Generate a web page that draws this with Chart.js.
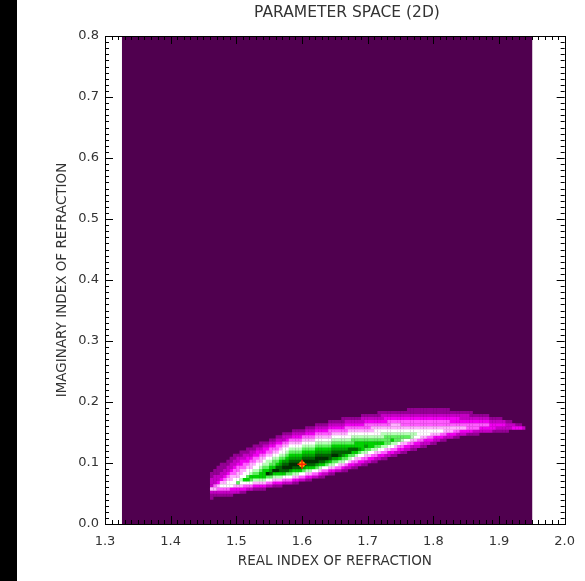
<!DOCTYPE html>
<html>
<head>
<meta charset="utf-8">
<script src="https://cdn.jsdelivr.net/npm/chart.js@4.4.1/dist/chart.umd.min.js"></script>
<style>
  html, body { margin: 0; padding: 0; background: #000; }
  #wrap { position: absolute; left: 17px; top: 0; width: 568px; height: 581px; background: #fff; }
</style>
</head>
<body>
<div id="wrap"><canvas id="chartParam"></canvas></div>
<script>
// grid region covered by the map (real / imaginary index)
const regionX = [1.3256, 1.951];
const regionYTop = 0.8;

const colX   = [1.46, 1.50, 1.54, 1.58, 1.62, 1.66, 1.70, 1.74, 1.78, 1.82, 1.86, 1.90, 1.94];
const ridgeY = [0.056, 0.067, 0.080, 0.093, 0.103, 0.115, 0.128, 0.138, 0.147, 0.154, 0.159, 0.161, 0.157];

// upper edge of each level (level 1 = outermost), null = level not reached in that column
const contourTop = [
  [0.085, 0.115, 0.134, 0.151, 0.162, 0.172, 0.180, 0.187, 0.188, 0.188, 0.183, 0.174, 0.160],
  [0.071, 0.107, 0.128, 0.146, 0.157, 0.167, 0.174, 0.181, 0.181, 0.181, 0.177, 0.170, null],
  [null,  0.099, 0.122, 0.141, 0.152, 0.162, 0.168, 0.175, 0.174, 0.174, 0.171, 0.165, null],
  [null,  0.091, 0.116, 0.137, 0.147, 0.157, 0.163, 0.169, 0.168, 0.168, 0.165, null,  null],
  [null,  0.083, 0.110, 0.132, 0.142, 0.151, 0.157, 0.163, 0.161, 0.161, null,  null,  null],
  [null,  0.075, 0.104, 0.127, 0.137, 0.146, 0.151, 0.156, 0.154, null,  null,  null,  null],
  [null,  null,  0.098, 0.122, 0.133, 0.141, 0.145, 0.150, null,  null,  null,  null,  null],
  [null,  null,  0.092, 0.117, 0.128, 0.136, 0.140, 0.144, null,  null,  null,  null,  null],
  [null,  null,  0.086, 0.112, 0.123, 0.131, 0.134, null,  null,  null,  null,  null,  null],
  [null,  null,  null,  0.108, 0.118, 0.125, null,  null,  null,  null,  null,  null,  null],
  [null,  null,  null,  0.103, 0.113, 0.120, null,  null,  null,  null,  null,  null,  null],
  [null,  null,  null,  0.098, 0.108, null,  null,  null,  null,  null,  null,  null,  null]
];
// lower edge of each level
const contourBottom = [
  [0.041, 0.049, 0.057, 0.064, 0.074, 0.085, 0.098, 0.111, 0.124, 0.138, 0.146, 0.151, 0.155],
  [0.049, 0.052, 0.060, 0.066, 0.076, 0.088, 0.101, 0.114, 0.128, 0.141, 0.149, 0.154, null],
  [null,  0.055, 0.062, 0.069, 0.079, 0.091, 0.105, 0.118, 0.132, 0.144, 0.153, 0.158, null],
  [null,  0.058, 0.065, 0.071, 0.081, 0.093, 0.108, 0.121, 0.136, 0.148, 0.156, null,  null],
  [null,  0.061, 0.067, 0.074, 0.084, 0.096, 0.111, 0.125, 0.139, 0.151, null,  null,  null],
  [null,  0.064, 0.070, 0.076, 0.086, 0.099, 0.115, 0.128, 0.143, null,  null,  null,  null],
  [null,  null,  0.072, 0.079, 0.089, 0.101, 0.118, 0.131, null,  null,  null,  null,  null],
  [null,  null,  0.075, 0.081, 0.091, 0.104, 0.121, 0.135, null,  null,  null,  null,  null],
  [null,  null,  0.077, 0.083, 0.093, 0.107, 0.125, null,  null,  null,  null,  null,  null],
  [null,  null,  null,  0.086, 0.096, 0.110, null,  null,  null,  null,  null,  null,  null],
  [null,  null,  null,  0.088, 0.098, 0.112, null,  null,  null,  null,  null,  null,  null],
  [null,  null,  null,  0.091, 0.101, null,  null,  null,  null,  null,  null,  null,  null]
];

const levelColors = ['#940094', '#c400c4', '#f000f0', '#ff5cff', '#ffb0ff', '#ffffff',
                     '#b8ffb8', '#5cf05c', '#00d200', '#00a000', '#006400', '#003000'];
const bgColor = '#50004f';

// best fit point
const bestX = [1.600];
const bestY = [0.098];

const xTickLabels = ['1.3', '1.4', '1.5', '1.6', '1.7', '1.8', '1.9', '2.0'];
const yTickLabels = ['0.0', '0.1', '0.2', '0.3', '0.4', '0.5', '0.6', '0.7', '0.8'];

const cellSize = 0.005;

function edgeAt(table, L, x) {
    for (let i = 0; i < colX.length - 1; i++) {
        if (x >= colX[i] && x <= colX[i + 1]) {
            const a = table[L][i] !== null ? table[L][i] : ridgeY[i];
            const b = table[L][i + 1] !== null ? table[L][i + 1] : ridgeY[i + 1];
            const t = (x - colX[i]) / (colX[i + 1] - colX[i]);
            return a + (b - a) * t;
        }
    }
    return null;
}

// rasterise the contours into grid cells, one list per level
const cellsByLevel = levelColors.map(() => []);
for (let i = 0; i < 100; i++) {
    const x = +(1.4625 + i * cellSize).toFixed(4);
    if (x > colX[colX.length - 1]) break;
    for (let j = 0; j < 45; j++) {
        const y = +(0.0025 + j * cellSize).toFixed(4);
        let level = -1;
        for (let L = 0; L < levelColors.length; L++) {
            const top = edgeAt(contourTop, L, x);
            const bot = edgeAt(contourBottom, L, x);
            if (top !== null && y < top && y > bot) level = L;
        }
        if (level >= 0) cellsByLevel[level].push({x: x, y: y});
    }
}

const datasets = [];
datasets.push({
    type: 'line',
    data: [{x: regionX[0], y: regionYTop}, {x: regionX[1], y: regionYTop}],
    borderWidth: 0,
    pointRadius: 0,
    fill: 'origin',
    backgroundColor: bgColor,
    order: 100
});
cellsByLevel.forEach(function (cells, L) {
    datasets.push({
        data: cells,
        pointStyle: 'rect',
        pointRadius: 2.45,
        borderWidth: 0,
        backgroundColor: levelColors[L],
        order: 50 - L
    });
});
datasets.push({
    data: [{x: bestX[0], y: bestY[0]}],
    pointStyle: 'circle',
    pointRadius: 3,
    borderWidth: 0,
    backgroundColor: '#ffa500',
    order: -1
});
datasets.push({
    data: [{x: bestX[0], y: bestY[0]}],
    pointStyle: 'cross',
    pointRadius: 4.5,
    borderWidth: 1.5,
    borderColor: '#ff2000',
    order: -2
});

// inward IDL style ticks on all four sides
const tickMarks = {
    id: 'tickMarks',
    afterDatasetsDraw(chart) {
        const ctx = chart.ctx;
        const a = chart.chartArea;
        const xs = chart.scales.x, ys = chart.scales.y;
        ctx.save();
        ctx.strokeStyle = '#000';
        ctx.lineWidth = 1;
        ctx.beginPath();
        for (let k = 0; k <= 70; k++) {
            const px = Math.round(xs.getPixelForValue(1.3 + k * 0.01)) + 0.5;
            const len = k % 10 === 0 ? 8 : 4;
            ctx.moveTo(px, a.bottom); ctx.lineTo(px, a.bottom - len);
            ctx.moveTo(px, a.top); ctx.lineTo(px, a.top + len);
        }
        for (let k = 0; k <= 80; k++) {
            const py = Math.round(ys.getPixelForValue(k * 0.01)) + 0.5;
            const len = k % 10 === 0 ? 8 : 4;
            ctx.moveTo(a.left, py); ctx.lineTo(a.left + len, py);
            ctx.moveTo(a.right, py); ctx.lineTo(a.right - len, py);
        }
        ctx.stroke();
        ctx.strokeRect(Math.round(a.left) + 0.5, Math.round(a.top) + 0.5,
                       Math.round(a.right - a.left), Math.round(a.bottom - a.top));
        // title
        ctx.fillStyle = '#333';
        ctx.font = '15.5px "DejaVu Sans"';
        ctx.textAlign = 'center';
        ctx.textBaseline = 'middle';
        ctx.fillText('PARAMETER SPACE (2D)', 330, 13);
        ctx.restore();
    }
};

const tickFont = {family: 'DejaVu Sans', size: 13};

new Chart(document.getElementById('chartParam'), {
    type: 'scatter',
    data: {datasets: datasets},
    options: {
        responsive: true,
        maintainAspectRatio: false,
        animation: false,
        events: [],
        layout: {padding: {top: 36, right: 16, left: 0, bottom: 0}},
        plugins: {legend: {display: false}, tooltip: {enabled: false}},
        scales: {
            x: {
                type: 'linear',
                min: 1.3,
                max: 2.0,
                afterFit: function (s) { s.height = 57; },
                afterBuildTicks: function (s) {
                    s.ticks = xTickLabels.map(function (t) { return {value: parseFloat(t)}; });
                },
                ticks: {
                    padding: 10,
                    color: '#333',
                    font: tickFont,
                    maxRotation: 0,
                    callback: function (v) { return v.toFixed(1); }
                },
                grid: {display: false, drawTicks: false},
                border: {display: false},
                title: {
                    display: true,
                    text: 'REAL INDEX OF REFRACTION',
                    color: '#333',
                    font: {family: 'DejaVu Sans', size: 13.5},
                    padding: {top: 0, bottom: 11}
                }
            },
            y: {
                type: 'linear',
                min: 0,
                max: 0.8,
                afterFit: function (s) { s.width = 88; },
                afterBuildTicks: function (s) {
                    s.ticks = yTickLabels.map(function (t) { return {value: parseFloat(t)}; });
                },
                ticks: {
                    padding: 6,
                    color: '#333',
                    font: tickFont,
                    callback: function (v) { return v.toFixed(1); }
                },
                grid: {display: false, drawTicks: false},
                border: {display: false},
                title: {
                    display: true,
                    text: 'IMAGINARY INDEX OF REFRACTION',
                    color: '#333',
                    font: {family: 'DejaVu Sans', size: 13.5},
                    padding: {top: 37, bottom: 0}
                }
            }
        }
    },
    plugins: [tickMarks]
});
</script>
</body>
</html>
